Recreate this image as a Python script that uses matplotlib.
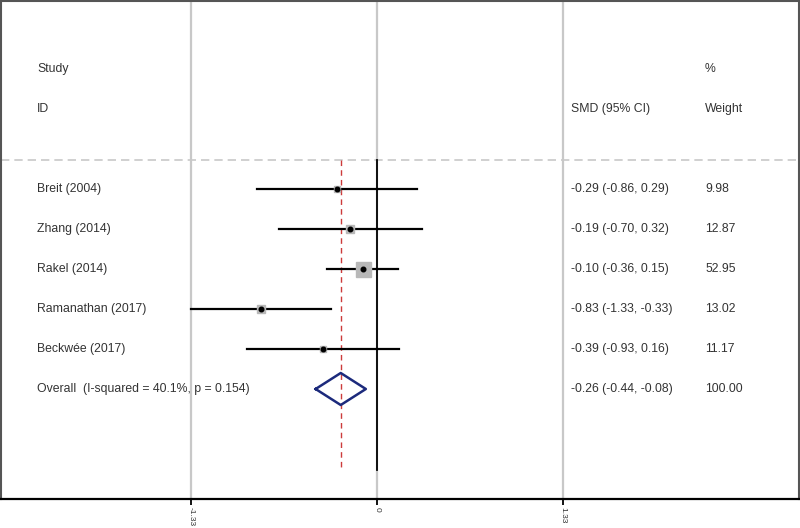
import matplotlib
matplotlib.use('Agg')
import matplotlib.pyplot as plt

plt.rcParams['font.family'] = ['Liberation Sans', 'DejaVu Sans']

# datos del forest plot
estudios = ['Breit (2004)', 'Zhang (2014)', 'Rakel (2014)', 'Ramanathan (2017)', 'Beckwée (2017)']
smd = [-0.29, -0.19, -0.10, -0.83, -0.39]
ci_bajo = [-0.86, -0.70, -0.36, -1.33, -0.93]
ci_alto = [0.29, 0.32, 0.15, -0.33, 0.16]
pesos = [9.98, 12.87, 52.95, 13.02, 11.17]
etiquetas_ci = ['-0.29 (-0.86, 0.29)', '-0.19 (-0.70, 0.32)', '-0.10 (-0.36, 0.15)',
                '-0.83 (-1.33, -0.33)', '-0.39 (-0.93, 0.16)']
etiquetas_peso = ['9.98', '12.87', '52.95', '13.02', '11.17']

overall_label = 'Overall  (I-squared = 40.1%, p = 0.154)'
overall_smd = -0.26
overall_bajo = -0.44
overall_alto = -0.08
overall_ci = '-0.26 (-0.44, -0.08)'
overall_peso = '100.00'

ticks = [-1.33, 0, 1.33]
tick_labels = ['-1.33', '0', '1.33']

# escala: 139.5 px por unidad, el 0 en x=377 px
px = 139.5
x0 = 377
W, H = 800, 528

fig = plt.figure(figsize=(8, 5.28), dpi=100)
ax = fig.add_axes([1 / W, (H - 499) / H, 798 / W, 498 / H])
ax.set_xlim((1 - x0) / px, (799 - x0) / px)
# filas de 40 px, fila 0 en y=69 px
ax.set_ylim(430 / 40, -68 / 40)

txt = '#333333'
fs = 8.8
col_txt = (37 - x0) / px
col_ci = (571 - x0) / px
col_w = (705 - x0) / px

# encabezados
ax.text(col_txt, 0, 'Study', fontsize=fs, color=txt, va='center')
ax.text(col_txt, 1, 'ID', fontsize=fs, color=txt, va='center')
ax.text(col_w, 0, '%', fontsize=fs, color=txt, va='center')
ax.text(col_ci, 1, 'SMD (95% CI)', fontsize=fs, color=txt, va='center')
ax.text(col_w, 1, 'Weight', fontsize=fs, color=txt, va='center')

y_sep = 2.275
y_fin = 10.025

# rejilla vertical gris
for t in ticks:
    ax.axvline(t, color='#c8c8c8', lw=1.6, zorder=1)
ax.axhline(y_sep, color='#c8c8c8', lw=1.2, ls=(0, (5, 3)), zorder=1)

# linea del cero y linea del efecto global
ax.plot([0, 0], [y_sep, y_fin], color='black', lw=1.3, zorder=2)
ax.plot([overall_smd, overall_smd], [y_sep, y_fin], color='#cc3b3b', lw=1.0,
        ls=(0, (4, 3)), zorder=2)

for i, nombre in enumerate(estudios):
    y = 3 + i
    ax.plot([ci_bajo[i], ci_alto[i]], [y, y], color='black', lw=1.6, zorder=3)
    lado = 10.8 * (pesos[i] / max(pesos)) ** 0.5
    ax.plot(smd[i], y, marker='s', ms=lado, color='#b8b8b8', mec='#b8b8b8', zorder=4)
    ax.plot(smd[i], y, marker='o', ms=3.3, color='black', zorder=5)
    ax.text(col_txt, y, nombre, fontsize=fs, color=txt, va='center')
    ax.text(col_ci, y, etiquetas_ci[i], fontsize=fs, color=txt, va='center')
    ax.text(col_w, y, etiquetas_peso[i], fontsize=fs, color=txt, va='center')

# diamante del efecto global
yo = 3 + len(estudios)
ax.plot([overall_bajo, overall_smd, overall_alto, overall_smd, overall_bajo],
        [yo, yo - 0.4, yo, yo + 0.4, yo], color='#1c2a7c', lw=1.8, zorder=4)
ax.text(col_txt, yo, overall_label, fontsize=fs, color=txt, va='center')
ax.text(col_ci, yo, overall_ci, fontsize=fs, color=txt, va='center')
ax.text(col_w, yo, overall_peso, fontsize=fs, color=txt, va='center')

# ejes
ax.set_yticks([])
ax.set_xticks(ticks)
ax.set_xticklabels(tick_labels, rotation=270, fontsize=6, color=txt)
ax.tick_params(axis='x', direction='out', length=4, width=1.3, color='black', pad=1.5)
for lado_spine in ['left', 'top', 'right']:
    ax.spines[lado_spine].set_color('#555555')
    ax.spines[lado_spine].set_linewidth(1.5)
ax.spines['bottom'].set_color('black')
ax.spines['bottom'].set_linewidth(1.6)

fig.savefig('out.png', dpi=100)
